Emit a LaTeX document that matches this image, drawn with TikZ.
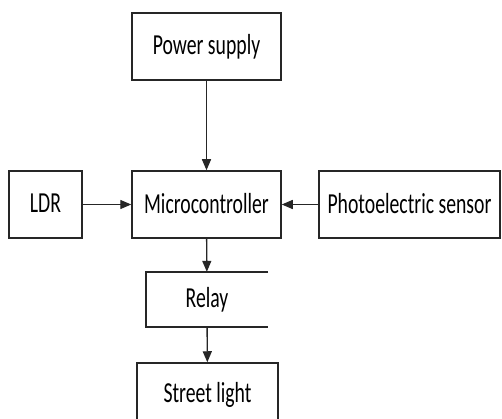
\documentclass[tikz,border=0pt]{standalone}
\usepackage{fontspec}
\setmainfont{Carlito}
\usepackage{graphicx}
\usetikzlibrary{arrows.meta}

% narrow label text, as in the scanned figure
\newcommand{\narrow}[1]{\raisebox{3pt}{\scalebox{0.68}[1]{#1}}}

\tikzset{
  block/.style={draw=black!85, line width=1.5pt, minimum height=67pt,
    inner sep=0pt, font=\fontsize{29}{31}\selectfont},
  openblock/.style={minimum width=122pt, minimum height=55pt,
    inner sep=0pt, font=\fontsize{29}{31}\selectfont},
  arr/.style={draw=black!85, line width=1.4pt, -{Triangle[length=11pt,width=9pt]}}
}

\begin{document}
\begin{tikzpicture}[x=1pt,y=-1pt]

        % Page size of the reference
        \clip (0,0) rectangle (502,419);
        \fill[white] (0,0) rectangle (502,419);

        % Top row: supply
        \node[block, minimum width=149pt] (power) at (206.5,46.5) {\narrow{Power supply}};

        % Middle row: the three inputs and the controller
        \node[block, minimum width=73pt] (ldr) at (45.5,204.5) {\narrow{LDR}};
        \node[block, minimum width=149pt] (mcu) at (206.5,204.5) {\narrow{Microcontroller}};
        \node[block, minimum width=181pt] (photo) at (409.5,204.5) {\narrow{Photoelectric sensor}};

        % Relay box is open on its right side
        \node[openblock] (relay) at (207,299.5) {\narrow{Relay}};
        \draw[black!85, line width=1.5pt] (relay.north east) -- (relay.north west)
            -- (relay.south west) -- (relay.south east);

        % Output (runs off the bottom of the page)
        \node[block, minimum width=141pt, minimum height=64pt] (lamp) at (207.5,395) {\narrow{Street light}};

        % Connectors
        \draw[arr] (power) -- (mcu);
        \draw[arr] (ldr) -- (mcu);
        \draw[arr] (photo) -- (mcu);
        \draw[arr] (mcu) -- (relay);
        \draw[arr] (relay) -- (lamp);

    \end{tikzpicture}
\end{document}
